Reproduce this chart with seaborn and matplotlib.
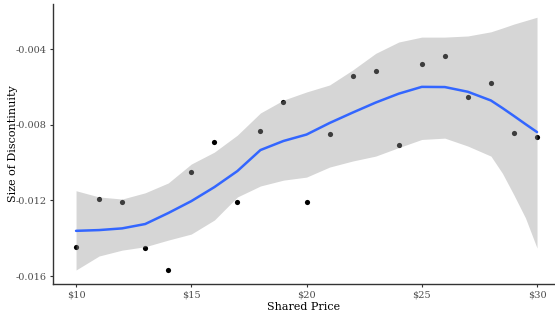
import numpy as np
import pandas as pd
import seaborn as sns

import matplotlib

matplotlib.use("Agg")
import matplotlib.pyplot as plt
from matplotlib.ticker import FuncFormatter

# scatter points
price = [10, 11, 12, 13, 14, 15, 16, 17, 18, 19, 20,
         21, 22, 23, 24, 25, 26, 27, 28, 29, 30]
discontinuity = [-0.01444, -0.01193, -0.01207, -0.01452, -0.01566, -0.01050,
                 -0.00892, -0.01209, -0.00833, -0.00681, -0.01209,
                 -0.00849, -0.00544, -0.00515, -0.00909, -0.00481,
                 -0.00439, -0.00655, -0.00581, -0.00845, -0.00863]

# smoothed fit and its confidence band
smooth_x = [10, 11, 12, 13, 14, 15, 16, 17, 18, 19, 20,
            21, 22, 23, 24, 25, 26, 27, 28, 28.5, 29, 29.5, 30]
smooth_fit = [-0.01361, -0.01357, -0.01348, -0.01325, -0.01267, -0.01204,
              -0.01130, -0.01045, -0.00934, -0.00886, -0.00852,
              -0.00791, -0.00736, -0.00683, -0.00636, -0.00600,
              -0.00601, -0.00626, -0.00672, -0.00712, -0.00754, -0.00797, -0.00839]
smooth_low = [-0.01568, -0.01494, -0.01463, -0.01445, -0.01410, -0.01378,
              -0.01304, -0.01182, -0.01124, -0.01093, -0.01077,
              -0.01024, -0.00992, -0.00966, -0.00921, -0.00878,
              -0.00871, -0.00913, -0.00966, -0.01057, -0.01172, -0.01293, -0.01452]
smooth_high = [-0.01149, -0.01182, -0.01193, -0.01160, -0.01108, -0.01008,
               -0.00945, -0.00855, -0.00738, -0.00670, -0.00627,
               -0.00590, -0.00511, -0.00423, -0.00363, -0.00337,
               -0.00337, -0.00331, -0.00309, -0.00289, -0.00268, -0.00250, -0.00232]

x_ticks = [10, 15, 20, 25, 30]
y_ticks = [-0.016, -0.012, -0.008, -0.004]

df = pd.DataFrame({"price": price, "size": discontinuity})
smooth = pd.DataFrame({"price": smooth_x, "fit": smooth_fit,
                       "low": smooth_low, "high": smooth_high})

sns.set_theme(style="ticks")
plt.rcParams["font.family"] = ["DejaVu Serif"]
plt.rcParams["axes.unicode_minus"] = False

fig = plt.figure(figsize=(5.55, 3.16), dpi=100)
ax = fig.add_axes([53 / 555, 1 - 284 / 316, 1 - 53 / 555, 280 / 316])

sns.scatterplot(data=df, x="price", y="size", ax=ax, color="black", s=14,
                linewidth=0, zorder=1)
ax.fill_between(smooth["price"], smooth["low"], smooth["high"],
                color="#999999", alpha=0.4, linewidth=0, zorder=2)
sns.lineplot(data=smooth, x="price", y="fit", ax=ax, color="#3366FF",
             linewidth=1.8, zorder=3)

ax.set_xlim(9, 30.78)
ax.set_ylim(-0.01642, -0.00162)
ax.set_xticks(x_ticks)
ax.set_yticks(y_ticks)
ax.xaxis.set_major_formatter(FuncFormatter(lambda v, p: f"\\${v:.0f}"))
ax.yaxis.set_major_formatter(FuncFormatter(lambda v, p: f"{v:.3f}"))
ax.tick_params(labelsize=7, colors="#333333", labelcolor="#4d4d4d",
               length=2.5, width=0.8, pad=2)

for side in ["top", "right"]:
    ax.spines[side].set_visible(False)
for side in ["left", "bottom"]:
    ax.spines[side].set_color("#333333")
    ax.spines[side].set_linewidth(1.0)

ax.set_xlabel("Shared Price", fontsize=8, color="black", labelpad=2)
ax.set_ylabel("Size of Discontinuity", fontsize=8, color="black")
ax.yaxis.set_label_coords(-0.069, 0.5)

fig.savefig("out.png", dpi=100)
